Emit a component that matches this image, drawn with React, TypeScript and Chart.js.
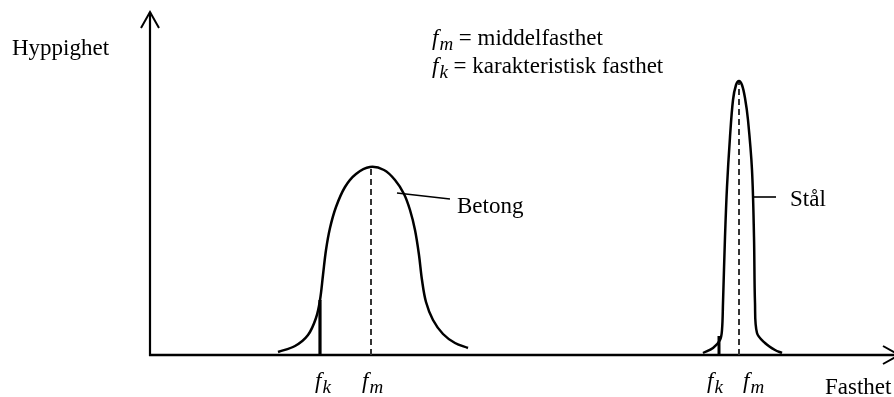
import { useEffect, useRef } from "react";
import { Chart, registerables } from "chart.js";

Chart.register(...registerables);

const SERIF = "'Liberation Serif', 'Times New Roman', serif";
const INK = "#000000";

// Axis extents (x: fasthet, y: hyppighet), arbitrary units
const X_MAX = 740;
const Y_MAX = 340;
const X_ARROW = 749;
const Y_ARROW = 343;

// Distribution curves
const betongCurve = [
  { x: 128, y: 3 }, { x: 145, y: 9 }, { x: 158, y: 20 }, { x: 166, y: 37 },
  { x: 170, y: 55 }, { x: 173, y: 80 }, { x: 176, y: 105 }, { x: 180, y: 127 },
  { x: 186, y: 148 }, { x: 195, y: 168 }, { x: 206, y: 181 }, { x: 220, y: 188 },
  { x: 234, y: 185 }, { x: 245, y: 175 }, { x: 254, y: 161 }, { x: 260, y: 145 },
  { x: 265, y: 125 }, { x: 269, y: 100 }, { x: 272, y: 75 }, { x: 276, y: 53 },
  { x: 283, y: 35 }, { x: 293, y: 21 }, { x: 305, y: 12 }, { x: 318, y: 7 },
];

const stalCurve = [
  { x: 553, y: 2 }, { x: 563, y: 7 }, { x: 570, y: 15 }, { x: 572, y: 25 },
  { x: 573, y: 52 }, { x: 575, y: 118 }, { x: 577, y: 168 }, { x: 580, y: 218 },
  { x: 583, y: 255 }, { x: 586, y: 270 }, { x: 589, y: 274 }, { x: 592, y: 270 },
  { x: 595, y: 257 }, { x: 598, y: 235 }, { x: 602, y: 185 }, { x: 604, y: 118 },
  { x: 605, y: 52 }, { x: 607, y: 22 }, { x: 615, y: 12 }, { x: 625, y: 5 },
  { x: 632, y: 2 },
];

// Characteristic (fk) and mean (fm) strengths with curve heights
const betongFk = [{ x: 170, y: 0 }, { x: 170, y: 55 }];
const betongFm = [{ x: 221, y: 0 }, { x: 221, y: 188 }];
const stalFk = [{ x: 569, y: 0 }, { x: 569, y: 19 }];
const stalFm = [{ x: 589, y: 0 }, { x: 589, y: 274 }];

// Leader lines for curve names
const betongLeader = [{ x: 247, y: 162 }, { x: 300, y: 156 }];
const stalLeader = [{ x: 604, y: 158 }, { x: 626, y: 158 }];

// Text labels: [text, x, y]
const plainLabels: [string, number, number][] = [
  ["Hyppighet", -138, 300],
  ["Fasthet", 675, -39],
  ["Betong", 307, 142],
  ["Stål", 640, 149],
];

// Strength symbols: [subscript, x, y, trailing text]
const symbolLabels: [string, number, number, string][] = [
  ["m", 282, 310, " = middelfasthet"],
  ["k", 282, 282, " = karakteristisk fasthet"],
  ["k", 165, -33, ""],
  ["m", 212, -33, ""],
  ["k", 557, -33, ""],
  ["m", 593, -33, ""],
];

const line = (data: { x: number; y: number }[], width: number, extra: object = {}) => ({
  data,
  borderColor: INK,
  borderWidth: width,
  pointRadius: 0,
  fill: false,
  clip: false as const,
  ...extra,
});

const axesAndText = {
  id: "axesAndText",
  beforeDatasetsDraw(chart: Chart) {
    const { ctx } = chart;
    const xs = chart.scales.x;
    const ys = chart.scales.y;
    const ox = xs.getPixelForValue(0);
    const oy = ys.getPixelForValue(0);
    const xe = xs.getPixelForValue(X_ARROW);
    const ye = ys.getPixelForValue(Y_ARROW);
    ctx.save();
    ctx.strokeStyle = INK;
    ctx.lineCap = "butt";
    ctx.lineWidth = 2.2;
    ctx.beginPath();
    ctx.moveTo(ox, oy + 1);
    ctx.lineTo(ox, ye);
    ctx.stroke();
    ctx.lineWidth = 2.6;
    ctx.beginPath();
    ctx.moveTo(ox - 1, oy);
    ctx.lineTo(xe, oy);
    ctx.stroke();
    ctx.lineWidth = 2;
    ctx.beginPath();
    ctx.moveTo(ox - 9, ye + 16);
    ctx.lineTo(ox, ye);
    ctx.lineTo(ox + 9, ye + 16);
    ctx.moveTo(xe - 16, oy - 9);
    ctx.lineTo(xe, oy);
    ctx.lineTo(xe - 16, oy + 9);
    ctx.stroke();
    ctx.restore();
  },
  afterDatasetsDraw(chart: Chart) {
    const { ctx } = chart;
    const xs = chart.scales.x;
    const ys = chart.scales.y;
    ctx.save();
    ctx.fillStyle = INK;
    ctx.textBaseline = "alphabetic";
    ctx.textAlign = "left";
    ctx.font = `23px ${SERIF}`;
    for (const [t, x, y] of plainLabels) {
      ctx.fillText(t, xs.getPixelForValue(x), ys.getPixelForValue(y));
    }
    for (const [sub, x, y, rest] of symbolLabels) {
      let px = xs.getPixelForValue(x);
      const py = ys.getPixelForValue(y);
      ctx.font = `italic 23px ${SERIF}`;
      ctx.fillText("f", px, py);
      px += ctx.measureText("f").width + 1;
      ctx.font = `italic 19px ${SERIF}`;
      ctx.fillText(sub, px, py + 5);
      px += ctx.measureText(sub).width;
      if (rest) {
        ctx.font = `23px ${SERIF}`;
        ctx.fillText(rest, px, py);
      }
    }
    ctx.restore();
  },
};

export default function App() {
  const ref = useRef<HTMLCanvasElement | null>(null);

  useEffect(() => {
    if (!ref.current) return;
    const chart = new Chart(ref.current, {
      type: "line",
      data: {
        datasets: [
          line(betongCurve, 2.5, { tension: 0.35 }),
          line(stalCurve, 2.5, { tension: 0.35 }),
          line(betongFk, 3.2),
          line(stalFk, 3),
          line(betongFm, 2, { borderDash: [6, 4], borderColor: "#333333" }),
          line(stalFm, 2, { borderDash: [6, 4], borderColor: "#333333" }),
          line(betongLeader, 1.6),
          line(stalLeader, 1.6),
        ],
      },
      options: {
        animation: false,
        responsive: false,
        devicePixelRatio: 1,
        layout: { padding: { left: 150, right: 4, top: 15, bottom: 42 } },
        parsing: false,
        plugins: { legend: { display: false }, tooltip: { enabled: false } },
        scales: {
          x: { type: "linear", min: 0, max: X_MAX, display: false },
          y: { type: "linear", min: 0, max: Y_MAX, display: false },
        },
      },
      plugins: [axesAndText],
    });
    return () => chart.destroy();
  }, []);

  return (
    <div style={{ position: "absolute", left: 0, top: 0, width: 894, height: 397, background: "#fff" }}>
      <canvas ref={ref} width={894} height={397} style={{ width: 894, height: 397 }} />
    </div>
  );
}
